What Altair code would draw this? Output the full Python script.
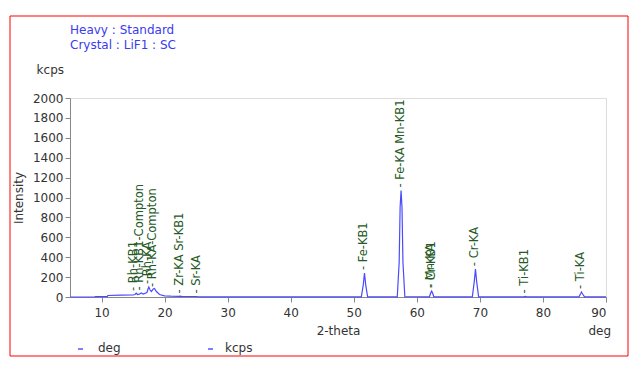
import altair as alt
import pandas as pd

# Spectrum (2-theta in deg, intensity in kcps)
theta = [5, 8.9, 9.0, 10.9, 11.0, 13.0, 15.0, 15.3, 15.5, 15.7, 16.0, 16.3, 16.6, 17.2, 17.4, 17.5,
         17.7, 17.9, 18.2, 18.4, 18.7, 19.2, 20.0, 21.0, 22.3, 22.5, 22.7, 25.0, 25.2, 26.0,
         51.2, 51.5, 51.7, 51.9, 52.2, 56.9, 57.2, 57.35, 57.5, 57.65, 57.8, 58.1,
         62.0, 62.2, 62.35, 62.5, 62.7, 68.8, 69.1, 69.3, 69.5, 69.8,
         77.0, 77.2, 77.4, 85.7, 86.0, 86.1, 86.3, 86.6, 90.0]
kcps = [0, 0, 3, 3, 15, 18, 20, 25, 38, 25, 28, 40, 30, 45, 85, 100,
        70, 55, 80, 85, 55, 25, 12, 8, 6, 8, 6, 5, 3, 1,
        1, 120, 240, 120, 2, 2, 350, 900, 1070, 900, 350, 3,
        2, 40, 60, 40, 2, 2, 150, 280, 150, 2,
        2, 6, 2, 2, 35, 50, 30, 2, 1]

# Peak identification labels
peak_names = ["Rh-KB1", "Rh-KB1-Compton", "Rh-KA", "Rh-KA-Compton", "Zr-KA Sr-KB1", "Sr-KA",
              "Fe-KB1", "Fe-KA Mn-KB1", "Mn-KA", "Cr-KB1", "Cr-KA", "Ti-KB1", "Ti-KA"]
peak_pos = [15.2, 16.1, 17.3, 18.2, 22.5, 25.1, 51.7, 57.5, 62.3, 62.4, 69.3, 77.2, 86.1]
peak_int = [30, 35, 100, 70, 5, 5, 240, 1070, 60, 60, 280, 5, 50]

x_ticks = [10, 20, 30, 40, 50, 60, 70, 80, 90]
y_ticks = [0, 200, 400, 600, 800, 1000, 1200, 1400, 1600, 1800, 2000]

spec = pd.DataFrame({"theta": theta, "kcps": kcps})
peaks = pd.DataFrame({"theta": peak_pos, "kcps": peak_int,
                      "label": ["- " + n for n in peak_names]})

FONT = "DejaVu Sans"
xs = alt.Scale(domain=[5, 90], nice=False)
ys = alt.Scale(domain=[0, 2000], nice=False)

x_axis = alt.Axis(title="2-theta", values=x_ticks, grid=False, domainColor="#888",
                  tickColor="#888", tickSize=5, labelColor="#333", labelFontSize=12,
                  labelFont=FONT, titleFont=FONT, titleFontSize=12, titleColor="#333",
                  titleFontWeight="normal", titlePadding=7, labelPadding=5,
                  labelOverlap=False, format="d")
y_axis = alt.Axis(title="Intensity", values=y_ticks, grid=False, domainColor="#888",
                  tickColor="#888", tickSize=5, labelColor="#333", labelFontSize=12,
                  labelFont=FONT, titleFont=FONT, titleFontSize=12, titleColor="#333",
                  titleFontWeight="normal", titlePadding=7, labelPadding=2,
                  labelOverlap=False, format="d")

line = alt.Chart(spec).mark_line(color="#4a4aff", strokeWidth=1.2).encode(
    x=alt.X("theta:Q", scale=xs, axis=x_axis),
    y=alt.Y("kcps:Q", scale=ys, axis=y_axis),
)

labels = alt.Chart(peaks).mark_text(angle=270, align="left", baseline="middle", dx=3,
                                    font=FONT, fontSize=11.5, color="#245a24").encode(
    x=alt.X("theta:Q", scale=xs, axis=x_axis), y=alt.Y("kcps:Q", scale=ys, axis=y_axis),
    text="label:N")

# decorative frame and annotation texts
frame = alt.Chart(pd.DataFrame({"a": [0]})).mark_rect(fill=None, stroke="#ff0000", strokeWidth=1).encode(
    x=alt.value(-60), x2=alt.value(558), y=alt.value(-82), y2=alt.value(258))

texts_df = pd.DataFrame({
    "t": ["Heavy : Standard", "Crystal : LiF1 : SC"],
    "px": [0, 0], "py": [-68, -53]})
head = alt.Chart(texts_df).mark_text(align="left", baseline="middle", font=FONT, fontSize=12,
                                     color="#3a3af0").encode(
    x=alt.X("px:Q", scale=None), y=alt.Y("py:Q", scale=None), text="t:N")

unit_df = pd.DataFrame({"t": ["kcps", "deg", "deg", "kcps"],
                        "px": [-6, 541, 28, 155], "py": [-28, 233, 250, 250]})
units_r = alt.Chart(unit_df.iloc[:2]).mark_text(align="right", baseline="middle", font=FONT,
                                                fontSize=12, color="#333").encode(
    x=alt.X("px:Q", scale=None), y=alt.Y("py:Q", scale=None), text="t:N")
units_l = alt.Chart(unit_df.iloc[2:]).mark_text(align="left", baseline="middle", font=FONT,
                                                fontSize=12, color="#333").encode(
    x=alt.X("px:Q", scale=None), y=alt.Y("py:Q", scale=None), text="t:N")

leg_df = pd.DataFrame({"x1": [8, 138], "x2": [13, 143], "yy": [251, 251]})
leg = alt.Chart(leg_df).mark_rule(color="#8080ff", strokeWidth=2).encode(
    x=alt.X("x1:Q", scale=None), x2="x2:Q", y=alt.Y("yy:Q", scale=None))

chart = alt.layer(frame, line, labels, head, units_r, units_l, leg).properties(
    width=536, height=199,
    autosize=alt.AutoSizeParams(type="none"),
    padding={"left": 62, "top": 90, "right": 24, "bottom": 69},
).configure_view(stroke="#999", strokeWidth=2).configure(background="white")

chart.save("out.html", embed_options={"renderer": "svg", "actions": False})
